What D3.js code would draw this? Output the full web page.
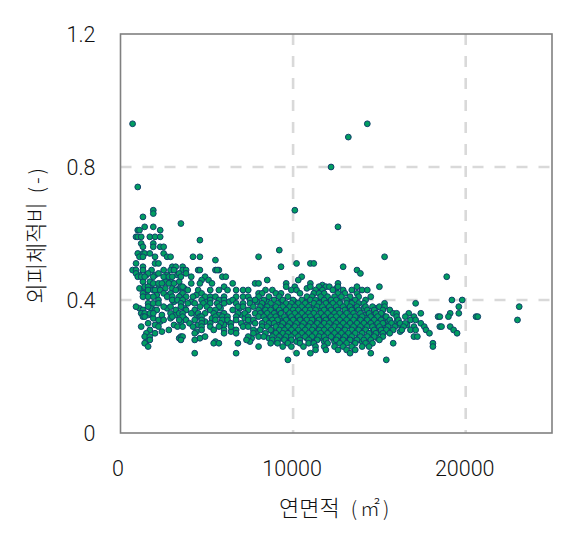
<!DOCTYPE html>
<html><head><meta charset="utf-8">
<script src="https://cdnjs.cloudflare.com/ajax/libs/d3/7.8.5/d3.min.js"></script>
<style>html,body{margin:0;padding:0;background:#fff}svg{display:block}
text{font-family:Roboto,"Noto Sans CJK KR",sans-serif;fill:#111}</style></head>
<body><svg id="c" width="565" height="534"></svg>
<script>
const xTicks=[0,10000,20000];
const yTicks=[0,0.4,0.8,1.2];
const xLabel="연면적";
const xUnit="(㎡)";
const yLabel="외피체적비";
const yUnit="(-)";
// ratio value of each row, and the areas (in hundreds of m²) read along that row
const ratioRows=[.93,.89,.80,.74,.67,.66,.65,.63,.62,.61,.59,.58,.57,.56,.55,.54,.53,.52,.51,.50,.49,.48,.47,.46,.45,.44,.43,.42,.41,.40,.39,.38,.37,.36,.35,.34,.33,.32,.31,.30,.29,.28,.27,.26,.25,.24,.22];
const areaRows=[
[7,143],[132],[122],[10],[19,101],[19],[13],[35],[14,19,126],[10,11,23],
[9,10,12,17,20,23],[46],[12,19],[13,19,23,25],[92],[10,13,14,17,25],
[11,13,20,27,29,42,46,80,153],[55],[9,20,22,102,110,112],[13,30,32,36,129,93],
[7,9,13,18,25,29,31,36,38,45,46,55,57,56,137],[9,16,22,34,38,139],
[10,12,14,19,25,28,30,35,41,49,59,61,105,189],[47,51,103,85],
[19,22,24,28,31,41,46,53,65,78,80,96,110,126],
[14,16,35,36,60,96,101,110,115,119,121,126,137,150],
[16,19,20,23,32,39,45,52,57,62,67,71,74,84,88,99,102,113,117,123,129,134,140,143],
[13,25,29,36,47,80,82,90,93,104,112,115,118,126,130,137],
[13,16,19,27,30,34,38,42,49,52,55,60,67,71,74,80,86,92,97,108,111,116,120,124,128,133,138,145],
[22,30,33,36,47,52,57,60,65,75,78,83,89,94,100,105,110,113,118,122,125,131,136,142,192,198],
[16,19,22,35,39,43,48,52,56,60,67,71,75,82,87,91,96,99,103,107,112,115,119,123,127,131,134,138,141,153,171],
[9,16,25,29,35,46,50,57,68,71,77,81,85,90,94,98,101,105,109,114,117,121,125,129,133,137,142,146,150,153,196,231],
[13,20,21,32,38,43,52,55,65,74,80,84,87,92,96,100,103,107,110,113,118,122,126,130,134,138,143,147,152,156],
[12,14,17,19,29,34,36,41,45,49,54,60,68,72,78,81,85,89,93,98,101,105,109,112,116,120,124,127,131,135,139,144,148,151,158,160,167,174,191,196],
[13,14,30,36,46,47,55,59,62,67,74,80,83,87,90,95,99,103,107,110,114,118,122,125,129,133,136,140,145,149,154,160,165,170,184,185,190,206,207],
[22,25,34,38,43,47,55,59,62,67,74,77,84,88,91,96,100,104,108,111,115,119,123,127,131,135,139,143,147,151,156,161,168,171,230],
[16,40,47,52,58,64,70,78,82,86,89,94,98,102,106,110,114,118,121,125,129,133,137,141,145,149,152,157,162,165,174],
[12,22,33,36,42,47,52,57,64,71,74,82,85,90,93,97,101,105,109,112,116,120,124,127,131,135,139,143,146,150,155,159,164,170,176,185,186,191],
[17,28,47,54,60,67,77,81,87,92,95,99,103,107,111,115,118,122,126,130,134,138,142,147,151,154,158,163,168,171,177,193],
[15,20,43,60,67,77,84,90,94,97,101,105,109,113,116,120,124,128,132,136,140,144,148,152,156,179,195],
[14,17,35,36,49,74,80,83,88,92,96,99,103,107,111,115,118,122,126,130,134,139,143,147,152,170,172],
[17,35,43,73,88,91,95,99,104,109,114,119,125,129,133,137,141,145,150],
[14,54,57,68,87,91,97,104,109,112,120,127,131,136,142,146,158,181],
[16,80,94,99,106,113,118,124,129,134,140,144,181],
[113,119,126,131,136],
[43,67,102,110,133,145],
[97,154]
];
// further marks that sit between the rows above
const ratioBetween=[.475,.455,.445,.435,.415,.395,.375,.355,.345,.335,.325,.305,.285,.275];
const areaBetween=[
[11,15,20,27,33],
[13,17,26,29,34],
[117],
[11,14,18,22,26,30,34,37,108,116,125],
[15,21,28,35,44],
[31,41,50,63,79,85,93,101,108,115,121,127,133],
[11,18,27,37,58,69,83,89,95,101,106,111,116,120,125,131,136,141,148],
[16,24,32,44,57,70,82,92,97,102,108,112,117,121,126,130,135,141,146,152],
[19,29,37,53,72,86,93,98,102,106,113,117,121,125,129,134,137,142,149,153],
[23,35,49,62,75,88,93,99,104,108,113,117,123,127,131,136,140,146,151,155,160],
[20,31,45,60,73,86,91,96,100,107,110,115,119,124,128,133,137,142,148,153,161,166],
[24,44,64,79,88,93,98,102,106,112,117,121,125,129,135,140,146,150,155,162],
[16,34,46,76,86,93,98,103,108,113,117,123,128,133,138,144,149],
[15,55,75,90,96,102,110,118,124,130,135,140]
];
const toPoints=(rs,as)=>rs.flatMap((r,i)=>as[i].map(a=>({area:a*100,ratio:r})));
const points=toPoints(ratioBetween,areaBetween).concat(toPoints(ratioRows,areaRows));

const svg=d3.select("#c");
const m={l:120.5,r:552,t:34,b:433};
const x=d3.scaleLinear().domain([0,25000]).range([m.l,m.r]);
const y=d3.scaleLinear().domain([0,1.2]).range([m.b,m.t]);

const grid=svg.append("g").attr("stroke","#d9d9d9").attr("stroke-width",2.6).attr("stroke-dasharray","11 11");
grid.selectAll(".gx").data(xTicks.slice(1)).join("line").attr("x1",d=>x(d)).attr("x2",d=>x(d)).attr("y1",m.t).attr("y2",m.b);
grid.selectAll(".gy").data(yTicks.slice(1,3)).join("line").attr("y1",d=>y(d)).attr("y2",d=>y(d)).attr("x1",m.l).attr("x2",m.r);

svg.append("rect").attr("x",m.l).attr("y",m.t).attr("width",m.r-m.l).attr("height",m.b-m.t)
  .attr("fill","none").attr("stroke","#808080").attr("stroke-width",1.6);

const ax=svg.append("g").attr("transform",`translate(0,${m.b})`)
  .call(d3.axisBottom(x).tickValues(xTicks).tickSize(0).tickPadding(28).tickFormat(d3.format("d")));
const ay=svg.append("g").attr("transform",`translate(${m.l},0)`)
  .call(d3.axisLeft(y).tickValues(yTicks).tickSize(0).tickPadding(25).tickFormat(d=>d===0?"0":d3.format(".1f")(d)));
[ax,ay].forEach(g=>{g.select(".domain").remove();g.selectAll("text").style("font-size","21.5px").style("fill","#111").style("font-family","Roboto").style("font-weight",300);});
ay.selectAll("text").attr("dy","0.36em");
ax.selectAll("text").attr("dx",d=>d===0?-3:-1.5);

svg.append("g").selectAll("circle").data(points).join("circle")
  .attr("cx",d=>x(d.area)).attr("cy",d=>y(d.ratio)).attr("r",2.9)
  .attr("fill","#009e60").attr("stroke","#123f6c").attr("stroke-width",1);

const hangul='"Noto Sans CJK KR"';
const xt=svg.append("text").attr("x",279).attr("y",516);
xt.append("tspan").text(xLabel).style("font-size","22px").style("font-weight",300).style("font-family",hangul);
xt.append("tspan").text(xUnit).attr("dx",11).style("font-size","20px").style("font-weight",300).style("font-family",hangul).style("letter-spacing","3px");
const yt=svg.append("text").attr("transform","translate(44,303.5) rotate(-90)");
yt.append("tspan").text(yLabel).style("font-size","22px").style("font-weight",300).style("font-family",hangul);
yt.append("tspan").text(yUnit).attr("dx",9).style("font-size","20px").style("font-weight",300).style("font-family",hangul).style("letter-spacing","3px");
</script></body></html>
